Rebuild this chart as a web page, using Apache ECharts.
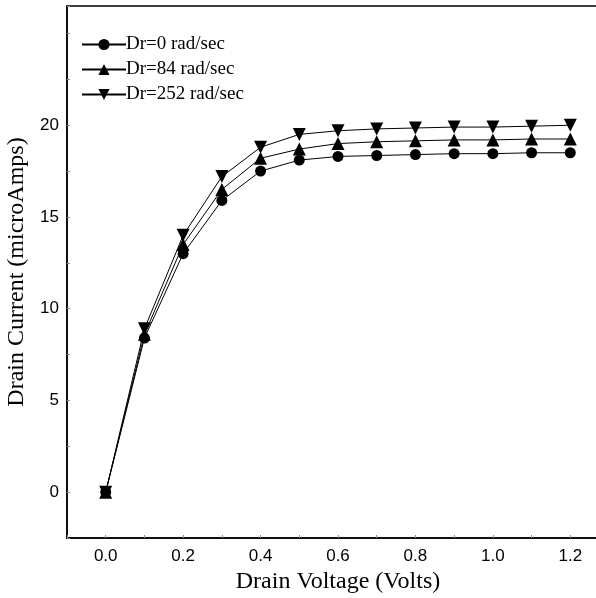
<!DOCTYPE html>
<html>
<head>
<meta charset="utf-8">
<script src="https://cdn.jsdelivr.net/npm/echarts@6/dist/echarts.min.js"></script>
<style>
html, body { margin: 0; padding: 0; background: #fff; }
#chart { width: 596px; height: 598px; }
</style>
</head>
<body>
<div id="chart"></div>
<script>
// drain voltage (V)
var voltage = [0.0, 0.1, 0.2, 0.3, 0.4, 0.5, 0.6, 0.7, 0.8, 0.9, 1.0, 1.1, 1.2];
// drain current (microAmps)
var dr0 = [0, 8.4, 13.0, 15.9, 17.5, 18.1, 18.3, 18.35, 18.4, 18.45, 18.45, 18.5, 18.5];
var dr84 = [0, 8.6, 13.5, 16.5, 18.2, 18.7, 19.0, 19.1, 19.15, 19.2, 19.2, 19.25, 19.25];
var dr252 = [0, 8.9, 14.0, 17.2, 18.8, 19.5, 19.7, 19.8, 19.85, 19.9, 19.9, 19.95, 20.0];
var names = ['Dr=0 rad/sec', 'Dr=84 rad/sec', 'Dr=252 rad/sec'];

function pairs(ys) {
    return voltage.map(function (x, i) { return [x, ys[i]]; });
}

var chart = echarts.init(document.getElementById('chart'));

function mkSeries(name, ys, symbol, size) {
    return {
        name: name,
        type: 'line',
        data: pairs(ys),
        symbol: symbol,
        symbolSize: size,
        showAllSymbol: true,
        lineStyle: { color: '#000', width: 1 },
        itemStyle: { color: '#000' },
        animation: false
    };
}

var option = {
    backgroundColor: '#fff',
    grid: {
        left: 67,
        right: -13,
        top: 6,
        bottom: 60,
        outerBoundsMode: 'none',
        containLabel: false,
        show: true,
        borderColor: '#000',
        borderWidth: 1.5
    },
    legend: {
        orient: 'vertical',
        left: 76,
        top: 30,
        itemWidth: 44,
        itemHeight: 14,
        itemGap: 6,
        data: names,
        textStyle: {
            fontFamily: 'Liberation Serif',
            fontSize: 19,
            color: '#000',
            padding: [0, 0, 0, -5]
        }
    },
    xAxis: {
        type: 'value',
        min: -0.1,
        max: 1.3,
        interval: 0.1,
        name: 'Drain Voltage (Volts)',
        nameLocation: 'middle',
        nameGap: 32,
        nameTextStyle: { fontFamily: 'Liberation Serif', fontSize: 24, color: '#000' },
        axisLine: { onZero: false, lineStyle: { color: '#000', width: 1.5 } },
        axisTick: { inside: true, length: 3, lineStyle: { color: '#888' } },
        splitLine: { show: false },
        axisLabel: {
            margin: 10,
            fontFamily: 'Liberation Sans',
            fontSize: 17,
            color: '#000',
            formatter: function (v) {
                var k = Math.round(v * 10);
                if (k < 0 || k > 12 || k % 2 !== 0) return '';
                return (k / 10).toFixed(1);
            }
        }
    },
    yAxis: {
        type: 'value',
        min: -2.5,
        max: 26.5,
        interval: 2.5,
        name: 'Drain Current (microAmps)',
        nameLocation: 'middle',
        nameGap: 31,
        nameTextStyle: { fontFamily: 'Liberation Serif', fontSize: 24, color: '#000' },
        axisLine: { onZero: false, lineStyle: { color: '#000', width: 1.5 } },
        axisTick: { inside: true, length: 3, lineStyle: { color: '#888' } },
        splitLine: { show: false },
        axisLabel: {
            margin: 8,
            fontFamily: 'Liberation Sans',
            fontSize: 17,
            color: '#000',
            formatter: function (v) {
                var k = Math.round(v * 10);
                if (k < 0 || k > 200 || k % 50 !== 0) return '';
                return String(k / 10);
            }
        }
    },
    series: [
        mkSeries(names[0], dr0, 'circle', 11),
        mkSeries(names[1], dr84, 'triangle', 13),
        mkSeries(names[2], dr252, 'path://M0,0 L10,0 L5,9 Z', 13)
    ]
};
chart.setOption(option);
</script>
</body>
</html>
